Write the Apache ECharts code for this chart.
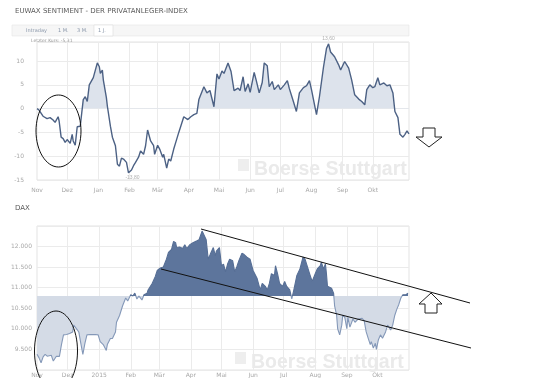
<!DOCTYPE html>
<html><head><meta charset="utf-8">
<script src="https://cdn.jsdelivr.net/npm/echarts@6/dist/echarts.min.js"></script>
<style>html,body{margin:0;padding:0;background:#fff}#c{width:539px;height:378px}</style>
</head><body><div id="c"></div>
<script>
// ---- DATA ----
// EUWAX Sentiment: days since 2014-11-01 and index values
const sentDays = [0,2,6,10,13,16,18,21,22,24,26,28,30,31,33,35,36,38,40,43,46,48,50,52,56,60,62,63,65,66,69,70,73,75,76,78,80,82,84,86,89,91,92,94,96,98,101,103,106,108,110,113,116,117,120,122,125,126,129,131,133,136,138,141,143,146,150,153,156,159,161,166,169,172,176,179,181,184,186,190,193,196,200,202,205,207,210,212,216,218,221,224,226,229,231,234,236,240,242,246,249,251,255,258,261,265,268,271,273,278,281,285,288,290,292,296,300,302,306,310,313,316,320,323,326,328,331,334,336,339,341,345,348,351,354,356,359,361,364,366,368,370];
const sentValues = [0,-0.3,-1.6,-2.1,-1.9,-2.4,-2.9,-1.7,-2.6,-6,-6.3,-7.1,-6.5,-6.9,-7.3,-5.4,-6.8,-7.7,-3.8,-3.7,1.9,2.5,1.5,5,6.5,9.6,8.8,7.4,8.1,6,2.3,0.5,-3.7,-6,-6,-7.8,-11.7,-12.1,-10.4,-10.6,-11.3,-13.5,-13.8,-12.9,-12,-11.3,-10.2,-8.9,-9.6,-7.8,-4.5,-6.8,-7.8,-9.6,-7.7,-8.5,-10.2,-9.6,-12.5,-10.6,-11,-8.5,-7.1,-5,-3.7,-1.7,-2.3,-1.7,-1.25,-1,1.9,4.6,3.3,3.8,0.4,7.3,6.2,7.9,7.4,9.6,7.8,3.8,4.3,3.8,6.7,3.6,5.2,3.4,7.6,6,3.3,5.5,9.6,9,4.6,5.7,4,5,4,5,5.9,4.2,1.5,-0.6,3.3,4.4,4.8,5.9,4,-1.25,2.6,8.8,12.7,13.6,11.9,10.9,9.2,8.1,9.9,8.5,6,2.9,2,1.5,0.8,4,5,4.4,4.6,6.5,5,5.4,4.8,5,3.3,-0.6,-1.9,-5.4,-6,-5.4,-4.7,-5.31];
// DAX: days since 2014-11-01 and index points
const daxDays = [0,2,4,6,8,10,14,16,19,22,24,26,29,32,35,36,39,41,43,45,47,49,52,57,60,62,65,68,69,72,74,77,78,81,84,87,89,92,94,96,98,100,103,105,108,109,113,116,118,121,124,127,129,132,134,136,137,140,143,145,147,150,153,157,159,162,163,166,168,170,171,173,175,176,179,181,183,185,187,189,192,194,196,198,201,203,206,209,212,216,219,221,224,226,228,230,233,234,236,238,241,243,245,248,250,252,255,258,261,263,265,268,270,273,275,278,279,281,283,284,285,289,291,292,294,295,297,299,300,302,304,305,307,310,312,315,319,321,323,325,327,328,330,332,333,335,337,339,342,344,347,349,351,353,355,357,359,360,362,364];
const daxValues = [9382,9295,9177,9318,9382,9335,9358,9217,9335,9330,9618,9854,9861,9885,9925,10090,9995,9925,9649,9382,9649,9854,9861,9861,9854,9688,9618,9476,9618,9767,9767,9925,10160,10325,10561,10750,10679,10828,10797,10868,10726,10797,10703,10828,10868,10946,11104,11269,11418,11481,11505,11693,11858,11929,12125,12094,11976,11990,11953,12047,11953,12047,12094,12141,12165,12377,12330,12165,11693,11811,11858,11976,11771,11889,11976,11535,11575,11387,11575,11693,11653,11387,11505,11653,11835,11811,11741,11693,11418,11222,10946,11104,11033,10946,11104,11340,11300,11535,11340,11104,11033,11151,11033,10946,10726,10946,11300,11458,11741,11693,11535,11300,11151,11340,11458,11535,11623,11458,11575,11340,11033,10986,10868,10561,10325,10002,9854,10090,10333,10278,10002,10278,10042,10239,10160,10239,10255,10200,9925,9767,9618,9688,9531,9649,9500,9736,9854,9770,9925,10090,9972,10090,10325,10474,10593,10750,10828,10797,10828,10868];
const daxBase = 10800;
const monthNames = ['Jan','Feb','Mär','Apr','Mai','Jun','Jul','Aug','Sep','Okt','Nov','Dez'];
const daxJanLabel = '2015';
const sentTicks = [-15,-10,-5,0,5,10];
const daxTicks = [9500,10000,10500,11000,11500,12000];

// ---- build ----
const DAY = 86400000, START = Date.UTC(2014,10,1);
function dayList(n){const a=[];for(let i=0;i<=n;i++){a.push(new Date(START+i*DAY).toISOString().slice(0,10));}return a;}
const catTop = dayList(370), catDax = dayList(365);
const isMonthStart = (v)=>v.slice(8,10)==='01';
const sentPairs = sentDays.map((d,i)=>[d,sentValues[i]]);
const daxPairs = daxDays.map((d,i)=>[d,daxValues[i]]);
const de = v => { const s=String(Math.abs(v)); const r=s.length>3? s.slice(0,s.length-3)+'.'+s.slice(-3):s; return (v<0?'-':'')+r; };
const dec = v => v.toFixed(2).replace('.',',');

const gridColor = '#ebebeb', labelColor = '#a8a8a8';
function xAxisFor(idx, cats, janLabel){
  const last = cats.length-1;
  return {
    type:'category', gridIndex: idx, data: cats, boundaryGap:false,
    axisLine:{show:false}, axisTick:{show:false},
    axisLabel:{
      interval:(i,v)=> isMonthStart(v) && i < last-5,
      formatter:(v)=>{const m=parseInt(v.slice(5,7),10)-1; return (m===0 && janLabel)? janLabel : monthNames[m];},
      color: labelColor, fontSize: 6, margin: idx===0?7:2, fontFamily:'DejaVu Sans'
    },
    splitLine:{show:true, interval:(i,v)=> isMonthStart(v) && i>0 && i < last-5, lineStyle:{color:gridColor, width:1}}
  };
}

const option = {
  animation:false,
  backgroundColor:'#fff',
  grid:[
    {left:37, right:130, top:42, bottom:198, show:true, borderColor:'#e3e3e3', borderWidth:1},
    {left:37, right:130, top:226, bottom:4, show:true, borderColor:'#e3e3e3', borderWidth:1}
  ],
  xAxis:[ xAxisFor(0, catTop, null), xAxisFor(1, catDax, daxJanLabel) ],
  yAxis:[
    {type:'value', gridIndex:0, min:-15, max:14, interval:5,
     axisLine:{show:false}, axisTick:{show:false},
     axisLabel:{color:labelColor, fontSize:6, margin:13, showMaxLabel:false, fontFamily:'DejaVu Sans',
       formatter:v=> sentTicks.includes(v)? String(v):''},
     splitLine:{lineStyle:{color:gridColor}}},
    {type:'value', gridIndex:1, min:9000, max:12500, interval:500,
     axisLine:{show:false}, axisTick:{show:false},
     axisLabel:{color:labelColor, fontSize:6, margin:5, showMaxLabel:false, showMinLabel:false, fontFamily:'DejaVu Sans',
       formatter:v=> daxTicks.includes(v)? de(v):''},
     splitLine:{lineStyle:{color:gridColor}}}
  ],
  visualMap:[
    {type:'piecewise', show:false, seriesIndex:0, dimension:1,
     pieces:[{gt:-100, lte:0, color:'rgba(255,255,255,0)'},{gt:0, lte:100, color:'#dde3ec'}]},
    {type:'piecewise', show:false, seriesIndex:1, dimension:1,
     pieces:[{gt:0, lte:daxBase, color:'#d4dbe6'},{gt:daxBase, lte:30000, color:'#5d759c'}]},
    {type:'piecewise', show:false, seriesIndex:2, dimension:1,
     pieces:[{gt:0, lte:daxBase, color:'#8498b8'},{gt:daxBase, lte:30000, color:'#566e95'}]}
  ],
  series:[
    {type:'line', xAxisIndex:0, yAxisIndex:0, data:sentPairs, showSymbol:false, z:3,
     lineStyle:{color:'#4c6184', width:1.4},
     areaStyle:{origin:0, opacity:1},
     markPoint:{symbol:'circle', symbolSize:0, silent:true,
       data:[
         {type:'max', label:{show:true, position:'top', distance:3, formatter:p=>dec(p.value), fontSize:5, color:'#b0b0b0'}},
         {type:'min', label:{show:true, position:'bottom', distance:1, offset:[3,0], formatter:p=>dec(p.value), fontSize:5, color:'#b0b0b0'}}
       ]}},
    {type:'line', xAxisIndex:1, yAxisIndex:1, data:daxPairs, showSymbol:false, z:2,
     lineStyle:{width:0, opacity:0},
     areaStyle:{origin:daxBase, opacity:1}},
    {type:'line', xAxisIndex:1, yAxisIndex:1, data:daxPairs, showSymbol:false, z:3,
     lineStyle:{width:1.1}}
  ],
  graphic:[
    {type:'text', left:15, top:8, style:{text:'EUWAX SENTIMENT - DER PRIVATANLEGER-INDEX', fontSize:7, fill:'#5a5a5a', fontFamily:'DejaVu Sans'}},
    {type:'rect', shape:{x:12, y:25, width:397, height:11}, style:{fill:'#f6f6f6', stroke:'#e6e6e6', lineWidth:0.6}},
    {type:'rect', shape:{x:94, y:25, width:19, height:11}, style:{fill:'#ffffff', stroke:'#dcdcdc', lineWidth:0.6}},
    {type:'text', x:26, y:28, style:{text:'Intraday', fontSize:5, fill:'#8a97aa', fontFamily:'DejaVu Sans'}},
    {type:'text', x:58, y:28, style:{text:'1 M.', fontSize:5, fill:'#8a97aa', fontFamily:'DejaVu Sans'}},
    {type:'text', x:77, y:28, style:{text:'3 M.', fontSize:5, fill:'#8a97aa', fontFamily:'DejaVu Sans'}},
    {type:'text', x:98, y:28, style:{text:'1 J.', fontSize:5, fill:'#8a97aa', fontFamily:'DejaVu Sans'}},
    {type:'text', x:31, y:38, z:10, style:{text:'Letzter Kurs: -5,31', fontSize:4.5, fill:'#9a9a9a', fontFamily:'DejaVu Sans'}},
    {type:'text', left:15, top:205, style:{text:'DAX', fontSize:7, fill:'#5a5a5a', fontFamily:'DejaVu Sans'}},
    // watermarks
    {type:'text', x:254, y:160, z:1, style:{text:'Boerse Stuttgart', fontSize:19.5, fontWeight:'bold', fill:'#eaeaea', fontFamily:'Liberation Sans'}},
    {type:'text', x:251, y:353, z:1, style:{text:'Boerse Stuttgart', fontSize:19.5, fontWeight:'bold', fill:'#eaeaea', fontFamily:'Liberation Sans'}},
    {type:'rect', shape:{x:238, y:159, width:11, height:12}, z:1, style:{fill:'#eeeeee'}},
    {type:'rect', shape:{x:235, y:352, width:11, height:12}, z:1, style:{fill:'#eeeeee'}},
    // hand-drawn annotations
    {type:'ellipse', z:20, shape:{cx:58.5, cy:131, rx:22.5, ry:36}, style:{fill:'none', stroke:'#111', lineWidth:1}},
    {type:'ellipse', z:20, shape:{cx:56, cy:351, rx:21.5, ry:40}, style:{fill:'none', stroke:'#111', lineWidth:1}},
    {type:'line', z:20, shape:{x1:201, y1:229, x2:470, y2:303}, style:{stroke:'#111', lineWidth:1}},
    {type:'line', z:20, shape:{x1:161, y1:269, x2:471, y2:348}, style:{stroke:'#111', lineWidth:1}},
    {type:'polygon', z:20, shape:{points:[[423,128],[435,128],[435,137],[442,137],[429,147],[416,137],[423,137]]}, style:{fill:'#fff', stroke:'#222', lineWidth:1}},
    {type:'polygon', z:20, shape:{points:[[431,293],[442,304],[437,304],[437,313],[425,313],[425,304],[419,304]]}, style:{fill:'#fff', stroke:'#222', lineWidth:1}}
  ]
};
const chart = echarts.init(document.getElementById('c'), null, {renderer:'canvas'});
chart.setOption(option);
</script></body></html>
